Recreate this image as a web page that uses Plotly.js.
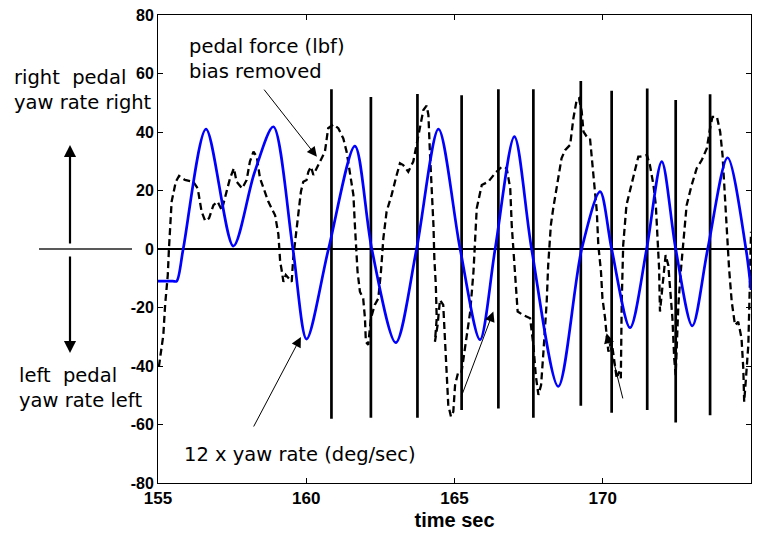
<!DOCTYPE html>
<html>
<head>
<meta charset="utf-8">
<script src="https://cdn.plot.ly/plotly-3.0.1.min.js"></script>
<style>html,body{margin:0;padding:0;background:#fff;}</style>
</head>
<body>
<div id="chart" style="width:764px;height:535px;"></div>
<script>
// 12 x yaw rate (deg/sec), blue solid
const yawTime = [155.0, 155.5, 155.63, 155.85, 156.62, 157.54, 158.25, 158.89, 159.55, 160.01, 160.75, 161.64, 162.21, 163.02, 163.72, 164.46, 165.19, 165.86, 166.37, 167.02, 167.60, 168.50, 169.29, 169.91, 170.30, 170.92, 171.48, 171.99, 172.46, 173.02, 173.54, 174.21, 174.83, 175.0];
const yawRate = [-11, -11, -11, 0, 41, 1, 26, 41.8, 0, -30.8, 0, 35.2, 0, -32, 0, 41, 0, -31, 0, 38.4, 0, -47, 0, 19.6, 0, -26.9, 0, 29.9, 0, -26.3, 0, 31.2, 0, -14];

// pedal force (lbf), bias removed, black dashed
const pedalTime = [155.03,155.18,155.24,155.33,155.37,155.46,155.60,155.71,155.91,156.19,156.34,156.47,156.59,156.72,156.87,157.01,157.15,157.32,157.43,157.56,157.65,157.84,157.99,158.10,158.22,158.33,158.44,158.72,158.95,159.06,159.12,159.17,159.23,159.31,159.42,159.51,159.56,159.64,159.73,159.82,159.90,160.01,160.07,160.16,160.24,160.35,160.46,160.63,160.74,160.92,161.08,161.25,161.36,161.47,161.59,161.64,161.70,161.73,161.81,161.92,161.98,162.01,162.09,162.18,162.31,162.43,162.52,162.60,162.71,162.88,163.05,163.16,163.27,163.44,163.61,163.72,163.84,163.95,164.06,164.12,164.17,164.23,164.29,164.32,164.37,164.40,164.34,164.43,164.51,164.62,164.68,164.74,164.79,164.88,164.96,165.02,165.13,165.24,165.36,165.53,165.64,165.70,165.75,165.92,166.14,166.37,166.59,166.76,166.88,166.93,166.99,167.07,167.13,167.32,167.55,167.66,167.74,167.83,167.92,168.00,168.11,168.16,168.25,168.33,168.45,168.61,168.73,168.90,169.01,169.12,169.20,169.29,169.35,169.46,169.57,169.65,169.72,169.80,169.85,169.94,169.99,170.08,170.13,170.19,170.30,170.41,170.47,170.55,170.61,170.64,170.69,170.80,170.97,171.09,171.20,171.26,171.49,171.59,171.71,171.79,171.85,171.90,171.93,172.01,172.12,172.21,172.27,172.35,172.41,172.46,172.49,172.55,172.64,172.75,172.83,173.00,173.17,173.34,173.51,173.62,173.70,173.85,173.96,174.04,174.11,174.18,174.26,174.35,174.46,174.57,174.68,174.74,174.77,174.83,174.91,174.96,175.0];
const pedalForce = [-40.2,-29.4,-19.1,-8.9,0.2,16.2,23,25,23.6,23,20.7,12.8,9.6,10.5,15,16.2,13.3,19.6,24.2,27.6,23,20.7,23.6,29.9,33.3,31.6,24.2,16.2,11.5,5,-4.3,-7.2,-11.2,-8.9,-10,-11.2,-3.2,3.6,12.8,19.6,23,23.6,26.4,28.1,25.3,27.6,29.9,33.3,41.3,42.6,41.3,37.8,33.3,26.4,18.5,8.2,-0.9,-7.7,-14.6,-16.9,-23.7,-31.7,-32.8,-23.7,-19.1,-16.9,-7.7,3.6,12.8,18.5,25.3,29.3,28.7,26.4,29.9,35.6,42.4,47.5,49,45.8,33.3,21.9,8.2,-3.2,-12.3,-23.7,-31.7,-26,-17.4,-19.1,-30.5,-44.2,-53.3,-57.3,-55.6,-46.5,-41.9,-41.9,-32.8,-21.4,-7.7,5.9,13.9,21.9,23,25.9,28.1,27.6,20.7,8.2,-0.9,-10,-21.4,-22.6,-23.7,-32.8,-43.1,-49.9,-46.5,-35.1,-18,-5.5,8.2,13.9,21.9,31,33.8,35.6,44.7,50.9,51.5,47,40.1,38.4,37.8,29.9,21.9,12.8,1.4,-7.7,-16.9,-23.7,-29.4,-35.1,-31.7,-39.7,-44.2,-41.9,-44.2,-18,1.4,15,21.9,27.6,31.6,31.6,32.1,28.7,21.9,15,4.8,-6.6,-21.4,-12.3,-2.1,-5.5,-12.3,-23.7,-37.4,-43.1,-35.1,-19.1,-6.6,5.9,15,21.9,27.6,30.4,34.4,41.3,45.2,45.2,40.1,32.1,18.5,4.8,-6.6,-18,-26,-24.9,-30.5,-40.8,-52.2,-44.2,-32.8,-12.3,5.9];

// vertical marker spikes
const spikeTime = [160.85, 162.18, 163.75, 165.24, 166.48, 167.66, 169.26, 170.30, 171.50, 172.46, 173.62];
const spikeTop = [54.6, 52, 53, 52.6, 54.6, 54.6, 57.4, 54.1, 54.9, 50.9, 52.9];
const spikeBottom = [-58, -57.7, -57.7, -55, -54.5, -57.7, -53.6, -56, -55, -59.3, -56.8];

const xTicks = [155, 160, 165, 170, 175];
const yTicks = [-80, -60, -40, -20, 0, 20, 40, 60, 80];

const spikeX = [], spikeY = [];
spikeTime.forEach((t, i) => { spikeX.push(t, t, null); spikeY.push(spikeBottom[i], spikeTop[i], null); });

const traces = [
  {x: pedalTime, y: pedalForce, type: 'scatter', mode: 'lines', name: 'pedal force',
   line: {color: '#000', width: 2.3, dash: '7px,4px'}},
  {x: spikeX, y: spikeY, type: 'scatter', mode: 'lines', name: 'markers',
   line: {color: '#000', width: 2.7}},
  {x: yawTime, y: yawRate, type: 'scatter', mode: 'lines', name: '12 x yaw rate',
   line: {color: '#0000ff', width: 2.7, shape: 'spline', smoothing: 0.85}}
];

const annFont = {family: 'DejaVu Sans', size: 19.5, color: '#000'};
const arrowBase = {text: '', showarrow: true, arrowhead: 2, arrowsize: 2, arrowwidth: 1, arrowcolor: '#000', axref: 'x', ayref: 'y', standoff: 0};

const layout = {
  width: 764, height: 535,
  margin: {l: 158, r: 13, t: 15, b: 52},
  paper_bgcolor: '#fff', plot_bgcolor: '#fff',
  showlegend: false,
  xaxis: {
    range: [155, 175], tickvals: xTicks, ticktext: xTicks.map(String),
    ticks: 'inside', ticklen: 5, tickcolor: '#000', tickwidth: 1,
    showline: true, linecolor: '#000', linewidth: 1, mirror: 'ticks',
    showgrid: false, zeroline: false,
    tickfont: {family: 'Liberation Sans, Arial', size: 17, weight: 700, color: '#000'},
    title: {text: 'time sec', font: {family: 'Liberation Sans, Arial', size: 20, weight: 700, color: '#000'}, standoff: 5}
  },
  yaxis: {
    range: [-80, 80], tickvals: yTicks, ticktext: yTicks.map(String),
    ticks: 'inside', ticklen: 5, tickcolor: '#000', tickwidth: 1,
    showline: true, linecolor: '#000', linewidth: 1, mirror: 'ticks',
    showgrid: false, zeroline: true, zerolinecolor: '#000', zerolinewidth: 1.2,
    tickfont: {family: 'Liberation Sans, Arial', size: 16, weight: 700, color: '#000'}
  },
  shapes: [
    {type: 'line', xref: 'paper', yref: 'y', x0: -0.2007, x1: -0.0438, y0: 0, y1: 0, line: {color: '#222', width: 1.5}}
  ],
  annotations: [
    {xref: 'x', yref: 'y', x: 155.98, y: 64.8, xanchor: 'left', yanchor: 'middle', align: 'left', showarrow: false,
     text: 'pedal force (lbf)<br>bias removed', font: annFont},
    {xref: 'x', yref: 'y', x: 155.82, y: -70.4, xanchor: 'left', yanchor: 'middle', align: 'left', showarrow: false,
     text: '12 x yaw rate (deg/sec)', font: annFont},
    {xref: 'paper', yref: 'paper', x: -0.247, y: 0.8408, xanchor: 'left', yanchor: 'middle', align: 'left', showarrow: false,
     text: 'right\u00a0 pedal<br>yaw rate right', font: annFont},
    {xref: 'paper', yref: 'paper', x: -0.237, y: 0.203, xanchor: 'left', yanchor: 'middle', align: 'left', showarrow: false,
     text: 'left\u00a0 pedal<br>yaw rate left', font: annFont},
    Object.assign({}, arrowBase, {xref: 'x', yref: 'y', x: 160.36, y: 31.5, ax: 158.54, ay: 55}),
    Object.assign({}, arrowBase, {xref: 'x', yref: 'y', x: 159.82, y: -30.1, ax: 158.2, ay: -61.2}),
    Object.assign({}, arrowBase, {xref: 'x', yref: 'y', x: 166.31, y: -21.4, ax: 165.21, ay: -51}),
    Object.assign({}, arrowBase, {xref: 'x', yref: 'y', x: 170.13, y: -28.8, ax: 170.69, ay: -51.6}),
    {xref: 'paper', yref: 'paper', x: -0.1484, y: 0.7222, text: '', showarrow: true, arrowhead: 2, arrowsize: 1.1, arrowwidth: 2.2, arrowcolor: '#000', ax: 0, ay: 100, standoff: 0},
    {xref: 'paper', yref: 'paper', x: -0.1484, y: 0.2778, text: '', showarrow: true, arrowhead: 2, arrowsize: 1.1, arrowwidth: 2.2, arrowcolor: '#000', ax: 0, ay: -98, standoff: 0}
  ]
};

Plotly.newPlot('chart', traces, layout, {staticPlot: true, displayModeBar: false});
</script>
</body>
</html>
